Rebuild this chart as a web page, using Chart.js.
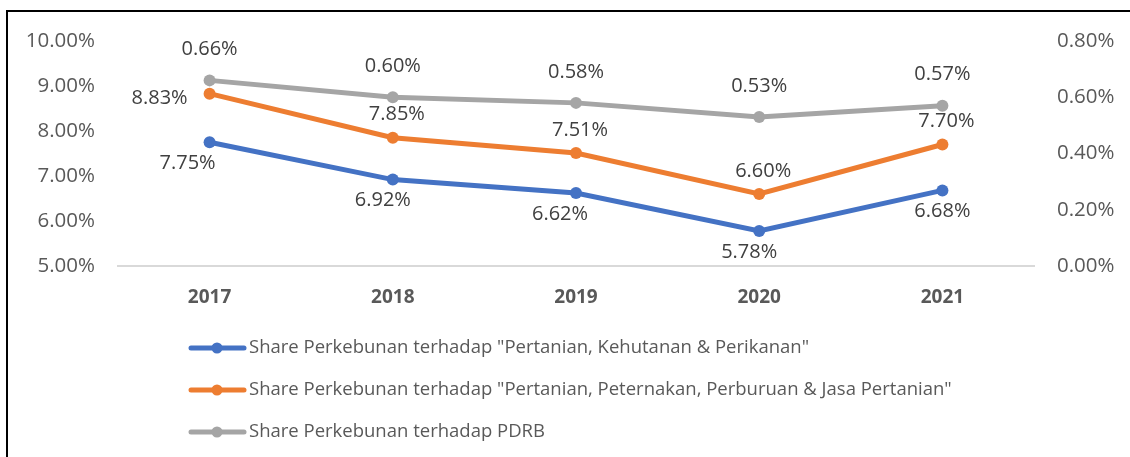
<!DOCTYPE html>
<html>
<head>
<meta charset="utf-8">
<script src="https://cdn.jsdelivr.net/npm/chart.js@4"></script>
<style>
  html, body { margin: 0; padding: 0; background: #fff; }
  canvas { display: block; }
</style>
</head>
<body>
<canvas id="chart" width="1130" height="457"></canvas>
<script>
const years = ["2017", "2018", "2019", "2020", "2021"];
const shareKehutanan = [7.75, 6.92, 6.62, 5.78, 6.68];
const sharePeternakan = [8.83, 7.85, 7.51, 6.60, 7.70];
const sharePdrb = [0.66, 0.60, 0.58, 0.53, 0.57];

const leftTicks = [5, 6, 7, 8, 9, 10];
const rightTicks = [0, 0.2, 0.4, 0.6, 0.8];

const FONT = "'Open Sans', 'Noto Sans', sans-serif";

/* ===== Data labels (Excel-like placement) ===== */

const labelPlugin = {
  id: "valueLabels",
  afterDatasetsDraw(chart) {
    const ctx = chart.ctx;
    ctx.save();
    ctx.font = "20px " + FONT;
    ctx.fillStyle = "#404040";
    ctx.textAlign = "center";
    ctx.textBaseline = "middle";
    chart.data.datasets.forEach((ds, i) => {
      const meta = chart.getDatasetMeta(i);
      meta.data.forEach((pt, j) => {
        let dx = 0, dy = 0;
        const place = ds.labelPlace;
        if (place === "above") { dy = -31; }
        if (place === "aboveTight") {
          if (j === 0) { dx = -50; dy = 5; } else { dx = 4; dy = -23; }
        }
        if (place === "below") {
          dx = [-22, -10, -16, -10, 0][j];
          dy = 21;
        }
        ctx.fillText(ds.data[j].toFixed(2) + "%", pt.x + dx, pt.y + dy);
      });
    });
    ctx.restore();
  }
};

/* ===== Legend + frame ===== */

const legendPlugin = {
  id: "lineLegend",
  afterDraw(chart) {
    const ctx = chart.ctx;
    ctx.save();
    // frame (top + left edge of the original chart box)
    ctx.strokeStyle = "#000";
    ctx.lineWidth = 2;
    ctx.beginPath();
    ctx.moveTo(7, 457);
    ctx.lineTo(7, 11);
    ctx.lineTo(1130, 11);
    ctx.stroke();

    ctx.font = "18.5px " + FONT;
    ctx.textAlign = "left";
    ctx.textBaseline = "middle";
    chart.data.datasets.forEach((ds, i) => {
      const y = 348 + i * 42;
      ctx.strokeStyle = ds.borderColor;
      ctx.lineWidth = 5;
      ctx.lineCap = "round";
      ctx.beginPath();
      ctx.moveTo(191, y);
      ctx.lineTo(244, y);
      ctx.stroke();
      ctx.fillStyle = ds.borderColor;
      ctx.beginPath();
      ctx.arc(217, y, 5.5, 0, Math.PI * 2);
      ctx.fill();
      ctx.fillStyle = "#595959";
      ctx.fillText(ds.label, 249, y);
    });
    ctx.restore();
  }
};

function makeSeries(label, data, color, axis, place) {
  return {
    label: label,
    data: data,
    yAxisID: axis,
    borderColor: color,
    backgroundColor: color,
    borderWidth: 5,
    pointRadius: 6,
    pointHoverRadius: 6,
    pointBorderWidth: 0,
    tension: 0,
    labelPlace: place
  };
}

new Chart(document.getElementById("chart"), {
  type: "line",
  data: {
    labels: years,
    datasets: [
      makeSeries('Share Perkebunan terhadap "Pertanian, Kehutanan & Perikanan"', shareKehutanan, "#4472C4", "y", "below"),
      makeSeries('Share Perkebunan terhadap "Pertanian, Peternakan, Perburuan & Jasa Pertanian"', sharePeternakan, "#ED7D31", "y", "aboveTight"),
      makeSeries("Share Perkebunan terhadap PDRB", sharePdrb, "#A5A5A5", "y1", "above")
    ]
  },
  options: {
    responsive: false,
    animation: false,
    layout: { padding: { top: 41, left: 0, right: 0, bottom: 0 } },
    plugins: {
      legend: { display: false },
      tooltip: { enabled: false }
    },
    scales: {
      x: {
        offset: true,
        grid: { display: false, drawTicks: false },
        border: { display: true, color: "#D9D9D9", width: 2 },
        ticks: {
          padding: 20,
          color: "#595959",
          font: { family: FONT, size: 19, weight: "bold" }
        },
        afterFit(scale) {
          scale.height = 457 - 266;
          scale.paddingLeft = 0;
          scale.paddingRight = 0;
        }
      },
      y: {
        position: "left",
        min: 5,
        max: 10,
        grid: { display: false, drawTicks: false },
        border: { display: false },
        afterBuildTicks(scale) {
          scale.ticks = leftTicks.map(v => ({ value: v }));
        },
        ticks: {
          padding: 23,
          color: "#595959",
          font: { family: FONT, size: 20.5 },
          callback: v => v.toFixed(2) + "%"
        },
        afterFit(scale) {
          scale.width = 118;
          scale.paddingTop = 0;
          scale.paddingBottom = 0;
        }
      },
      y1: {
        position: "right",
        min: 0,
        max: 0.8,
        grid: { display: false, drawTicks: false },
        border: { display: false },
        afterBuildTicks(scale) {
          scale.ticks = rightTicks.map(v => ({ value: v }));
        },
        ticks: {
          padding: 23,
          color: "#595959",
          font: { family: FONT, size: 20.5 },
          callback: v => v.toFixed(2) + "%"
        },
        afterFit(scale) {
          scale.width = 1130 - 1034;
          scale.paddingTop = 0;
          scale.paddingBottom = 0;
        }
      }
    }
  },
  plugins: [labelPlugin, legendPlugin]
});
</script>
</body>
</html>
